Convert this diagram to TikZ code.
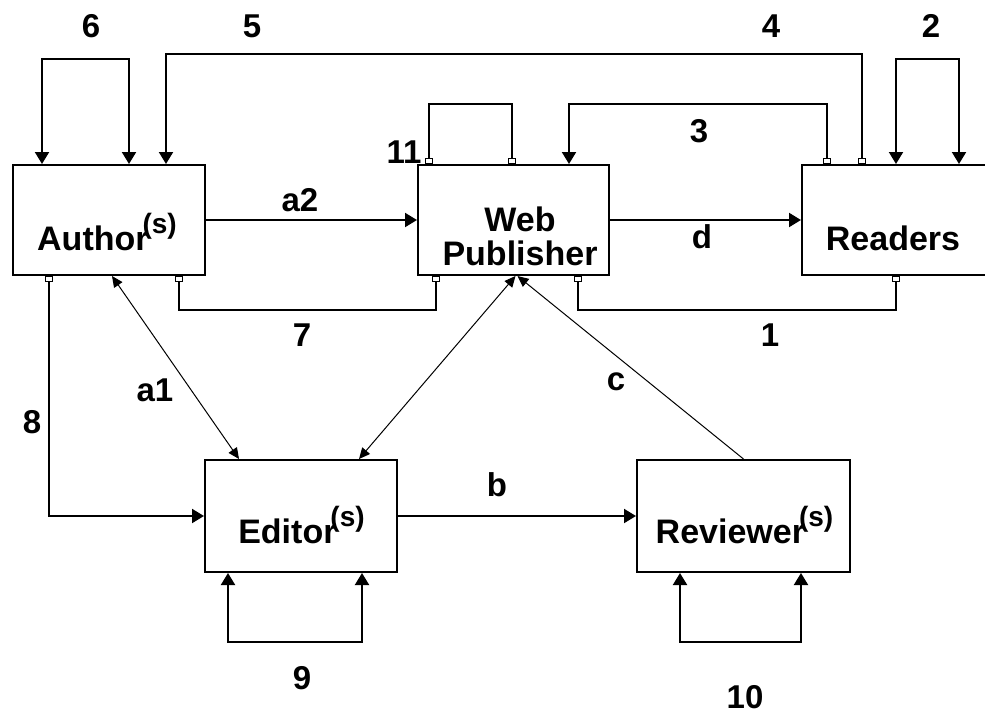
\documentclass[tikz,border=0pt]{standalone}
\usepackage{fontspec}
\setmainfont{Liberation Sans}
\usetikzlibrary{arrows.meta}
\tikzset {
  box node/.style = {
    draw = black,
    line width = 2pt,
    minimum height = 110pt,
    inner sep = 0
  },
  % text set inside a box
  box text/.style = {
    font = \fontsize{34}{34}\selectfont\bfseries,
    align = center,
    inner sep = 0
  },
  % number or letter beside a path
  tag/.style = {
    font = \fontsize{33}{34}\selectfont\bfseries,
    inner sep = 0
  }
}
\tikzset {
  flow/.style = {
    draw = black,
    line width = 2pt
  },
  % thin diagonal paths
  thin flow/.style = {
    draw = black,
    line width = 1pt
  },
  flowhead/.tip = {Triangle[length=12pt, width=14pt]},
  thinhead/.tip = {Triangle[length=11pt, width=10pt]},
  flowtail/.tip = {Square[open, length=6pt, width=8pt, line width=1.2pt]}
}
\newcommand{\plural}{\kern-6pt\raisebox{17pt}{\fontsize{28}{28}\selectfont(s)}}

\begin{document}
\begin{tikzpicture}[x=1pt, y=-1pt]
    \useasboundingbox (0,0) rectangle (985,715);

    \node[box node, minimum width=192pt] (author) at (109,220) {};
    \node[box node, minimum width=191pt] (publisher) at (513.5,220) {};
    \node[box node, minimum width=188pt] (readers) at (896,220) {};
    \node[box node, minimum width=192pt, minimum height=112pt] (editor) at (301,516) {};
    \node[box node, minimum width=213pt, minimum height=112pt] (reviewer) at (743.5,516) {};

    \node[box text, anchor=base] (author-text) at (107,250) {Author\plural};
    \node[box text] (publisher-text) at (520,236) {Web\\Publisher};
    \node[box text, anchor=base] (readers-text) at (893,250) {Readers};
    \node[box text, anchor=base] (editor-text) at (301.5,543) {Editor\plural};
    \node[box text, anchor=base] (reviewer-text) at (744.5,543) {Reviewer\plural};

    % loops over the top row
    \draw[flow, flowhead-flowhead] ([xshift=30pt]author.north west) -- ++(0,-105) -| ([xshift=117pt]author.north west);
    \draw[flow, flowtail-flowhead] ([xshift=61pt]readers.north west) -- ++(0,-110) -| ([xshift=154pt]author.north west);
    \draw[flow, flowhead-flowhead] ([xshift=95pt]readers.north west) -- ++(0,-105) -| ([xshift=158pt]readers.north west);
    \draw[flow, flowtail-flowhead] ([xshift=26pt]readers.north west) -- ++(0,-60) -| ([xshift=152pt]publisher.north west);
    \draw[flow, flowtail-flowtail] ([xshift=12pt]publisher.north west) -- ++(0,-60) -| ([xshift=95pt]publisher.north west);

    \draw[flow, -flowhead] (author) -- (publisher);
    \draw[flow, -flowhead] (publisher) -- (readers);

    % paths under the top row
    \draw[flow, flowtail-flowtail] ([xshift=19pt]publisher.south west) -- ++(0,34) -| ([xshift=167pt]author.south west);
    \draw[flow, flowtail-flowtail] ([xshift=95pt]readers.south west) -- ++(0,34) -| ([xshift=161pt]publisher.south west);
    \draw[flow, flowtail-flowhead] ([xshift=37pt]author.south west) |- (editor.west);

    \draw[thin flow, thinhead-thinhead] ([xshift=100pt]author.south west) -- ([xshift=35pt]editor.north west);
    \draw[thin flow, thinhead-thinhead] ([xshift=2pt]publisher.south) -- ([xshift=155pt]editor.north west);
    \draw[thin flow, -thinhead] (reviewer.north) -- ([xshift=4pt]publisher.south);

    \draw[flow, -flowhead] (editor) -- (reviewer);

    % loops under the bottom row
    \draw[flow, flowhead-flowhead] ([xshift=24pt]editor.south west) -- ++(0,69) -| ([xshift=158pt]editor.south west);
    \draw[flow, flowhead-flowhead] ([xshift=44pt]reviewer.south west) -- ++(0,69) -| ([xshift=165pt]reviewer.south west);

    \node[tag] (tag-6) at (91,26) {6};
    \node[tag] (tag-5) at (252,26) {5};
    \node[tag] (tag-4) at (771,26) {4};
    \node[tag] (tag-2) at (931,26) {2};
    \node[tag] (tag-3) at (699,131) {3};
    \node[tag] (tag-11) at (404,152) {11};
    \node[tag] (tag-a2) at (300,200) {a2};
    \node[tag] (tag-d) at (702,237) {d};
    \node[tag] (tag-7) at (302,335) {7};
    \node[tag] (tag-1) at (770,335) {1};
    \node[tag] (tag-8) at (32,422) {8};
    \node[tag] (tag-a1) at (155,390) {a1};
    \node[tag] (tag-c) at (616,382) {c};
    \node[tag] (tag-b) at (497,485) {b};
    \node[tag] (tag-9) at (302,678) {9};
    \node[tag] (tag-10) at (745,697) {10};
\end{tikzpicture}
\end{document}
